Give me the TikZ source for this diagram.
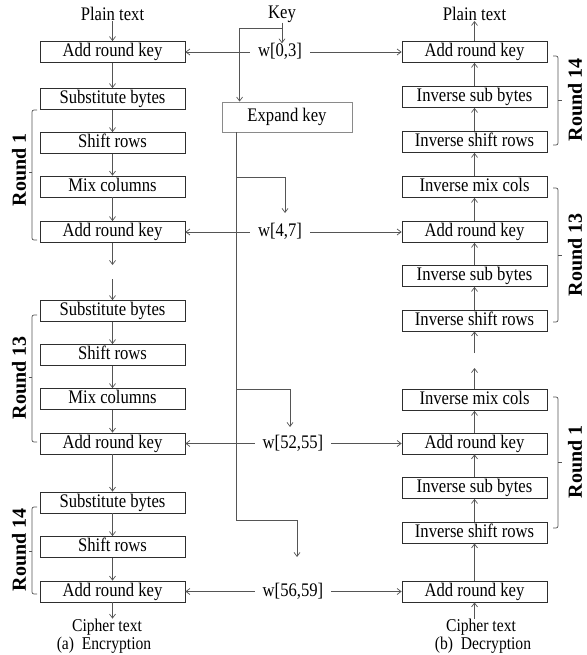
\documentclass[tikz,border=0pt]{standalone}
\usepackage{fontspec}
\usepackage{graphicx}
\setmainfont{Liberation Serif}
\usetikzlibrary{arrows.meta}
\definecolor{boxc}{HTML}{2E2E2E}
\definecolor{linec}{HTML}{555555}
\definecolor{expc}{HTML}{8A8A8A}
\newcommand\tallt[1]{\scalebox{1.04}[1.2]{#1}}
\begin{document}
\begin{tikzpicture}[x=1pt,y=-1pt,
 box/.style={draw=boxc, line width=0.8pt, minimum width=145pt, minimum height=21pt, inner sep=0pt, text height=13pt, text depth=4pt, font=\fontsize{16}{16}\selectfont},
 lbl/.style={inner sep=0pt, font=\fontsize{16}{16}\selectfont},
 captxt/.style={inner sep=0pt, font=\fontsize{15}{15}\selectfont},
 wl/.style={inner xsep=8pt, inner ysep=0pt, text height=13pt, text depth=4pt, font=\fontsize{16}{16}\selectfont},
 rnd/.style={rotate=90, inner sep=0pt, font=\fontsize{20}{20}\selectfont\bfseries},
 ln/.style={draw=linec, line width=0.7pt},
 arr/.style={ln, -{Straight Barb[length=4pt,width=6pt]}},
 brk/.style={ln, rounded corners=2pt}
]
\useasboundingbox (0,0) rectangle (586,655);

% ---------- Encryption column ----------
\node[lbl] (ptL) at (112.5,14) {\tallt{Plain text}};
\node[box] (L1) at (112.5,52) {\tallt{Add round key}};
\node[box] (L2) at (112.5,99) {\tallt{Substitute bytes}};
\node[box] (L3) at (112.5,143) {\tallt{Shift rows}};
\node[box] (L4) at (112.5,186.5) {\tallt{Mix columns}};
\node[box] (L5) at (112.5,232) {\tallt{Add round key}};
\coordinate (g1) at (112.5,265);
\coordinate (g2) at (112.5,279);
\node[box] (L6) at (112.5,311) {\tallt{Substitute bytes}};
\node[box] (L7) at (112.5,355) {\tallt{Shift rows}};
\node[box] (L8) at (112.5,399) {\tallt{Mix columns}};
\node[box] (L9) at (112.5,443.5) {\tallt{Add round key}};
\node[box] (L10) at (112.5,502.5) {\tallt{Substitute bytes}};
\node[box] (L11) at (112.5,547) {\tallt{Shift rows}};
\node[box] (L12) at (112.5,591.5) {\tallt{Add round key}};
\node[captxt] (ctL) at (107,627) {\tallt{Cipher text}};
\node[captxt] (capL) at (104,645) {\tallt{(a)\ \ Encryption}};

\draw[arr] (ptL) -- (L1);
\draw[arr] (L1) -- (L2);
\draw[arr] (L2) -- (L3);
\draw[arr] (L3) -- (L4);
\draw[arr] (L4) -- (L5);
\draw[arr] (L5) -- (g1);
\draw[arr] (g2) -- (L6);
\draw[arr] (L6) -- (L7);
\draw[arr] (L7) -- (L8);
\draw[arr] (L8) -- (L9);
\draw[arr] (L9) -- (L10);
\draw[arr] (L10) -- (L11);
\draw[arr] (L11) -- (L12);
\draw[arr] (L12.south) -- (L12.south |- ctL.north);

% ---------- Decryption column ----------
\node[lbl] (ptR) at (474.5,14) {\tallt{Plain text}};
\node[box] (R1) at (474.5,52) {\tallt{Add round key}};
\node[box] (R2) at (474.5,97) {\tallt{Inverse sub bytes}};
\node[box] (R3) at (474.5,142) {\tallt{Inverse shift rows}};
\node[box] (R4) at (474.5,187) {\tallt{Inverse mix cols}};
\node[box] (R5) at (474.5,232) {\tallt{Add round key}};
\node[box] (R6) at (474.5,276) {\tallt{Inverse sub bytes}};
\node[box] (R7) at (474.5,320.5) {\tallt{Inverse shift rows}};
\coordinate (h1) at (474.5,353);
\coordinate (h2) at (474.5,368);
\node[box] (R8) at (474.5,400) {\tallt{Inverse mix cols}};
\node[box] (R9) at (474.5,443.5) {\tallt{Add round key}};
\node[box] (R10) at (474.5,488) {\tallt{Inverse sub bytes}};
\node[box] (R11) at (474.5,532.5) {\tallt{Inverse shift rows}};
\node[box] (R12) at (474.5,591.5) {\tallt{Add round key}};
\node[captxt] (ctR) at (481,627) {\tallt{Cipher text}};
\node[captxt] (capR) at (483,645) {\tallt{(b)\ \ Decryption}};

\draw[arr] (R1) -- (ptR);
\draw[arr] (R2) -- (R1);
\draw[arr] (R3) -- (R2);
\draw[arr] (R4) -- (R3);
\draw[arr] (R5) -- (R4);
\draw[arr] (R6) -- (R5);
\draw[arr] (R7) -- (R6);
\draw[arr] (h1) -- (R7);
\draw[arr] (R8) -- (h2);
\draw[arr] (R9) -- (R8);
\draw[arr] (R10) -- (R9);
\draw[arr] (R11) -- (R10);
\draw[arr] (R12) -- (R11);
\draw[arr] (R12.south |- ctR.north) -- (R12.south);

% ---------- Key schedule ----------
\node[lbl] (key) at (282,14) {\tallt{Key}};
\node[wl] (w0) at (280,52) {\tallt{w[0,3]}};
\node[wl] (w4) at (280,232) {\tallt{w[4,7]}};
\node[wl] (w52) at (293,443.5) {\tallt{w[52,55]}};
\node[wl] (w56) at (293,591.5) {\tallt{w[56,59]}};
\node[draw=expc, line width=0.8pt, minimum width=130pt, minimum height=30pt, inner sep=0pt, font=\fontsize{16}{16}\selectfont] (exp) at (287,117) {\tallt{Expand key}};

\coordinate (kc) at (282,28);
\draw[arr] (key.south -| kc) -- (kc |- w0.north);
\draw[arr] (kc) -| ([xshift=18pt]exp.north west);

\coordinate (eb) at ([xshift=15pt]exp.south west);
\coordinate (a1) at (285,213);
\coordinate (a2) at (290,427);
\coordinate (a3) at (297,557);
\draw[arr] (eb) |- ([yshift=37pt]a3) -- (a3);
\draw[arr] (eb |- 0,177) -| (a1);
\draw[arr] (eb |- 0,389) -| (a2);

\draw[arr] (w0) -- (L1);
\draw[arr] (w0) -- (R1);
\draw[arr] (w4) -- (L5);
\draw[arr] (w4) -- (R5);
\draw[arr] (w52) -- (L9);
\draw[arr] (w52) -- (R9);
\draw[arr] (w56) -- (L12);
\draw[arr] (w56) -- (R12);

% ---------- Round brackets ----------
\draw[brk] (37,110) -- (32,110) -- (32,240) -- (37,240);
\draw[ln] (32,172) -- (29,172);
\draw[brk] (37,315) -- (32,315) -- (32,442) -- (37,442);
\draw[ln] (32,377) -- (29,377);
\draw[brk] (37,507) -- (32,507) -- (32,594) -- (37,594);
\draw[ln] (32,551) -- (29,551);
\node[rnd] at (19,170) {Round 1};
\node[rnd] at (19,378) {Round 13};
\node[rnd] at (19,550) {Round 14};

\draw[brk] (553,56) -- (558,56) -- (558,145) -- (553,145);
\draw[ln] (558,100) -- (562,100);
\draw[brk] (553,188) -- (558,188) -- (558,322) -- (553,322);
\draw[ln] (558,255) -- (562,255);
\draw[brk] (553,397) -- (558,397) -- (558,528) -- (553,528);
\draw[ln] (558,462) -- (562,462);
\node[rnd] at (575,100) {Round 14};
\node[rnd] at (575,255) {Round 13};
\node[rnd] at (575,462) {Round 1};
\end{tikzpicture}
\end{document}
